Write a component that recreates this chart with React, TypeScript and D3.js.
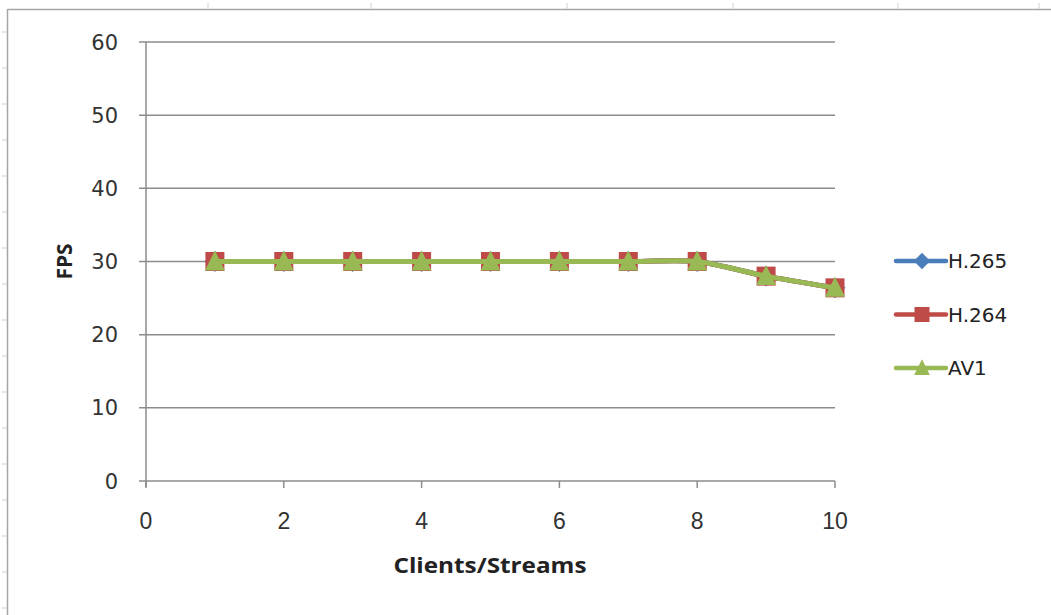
import React from "react";
import * as d3 from "d3";

const clients = [1, 2, 3, 4, 5, 6, 7, 8, 9, 10];
const h265 = [30, 30, 30, 30, 30, 30, 30, 30, 28, 26.4];
const h264 = [30, 30, 30, 30, 30, 30, 30, 30, 28, 26.4];
const av1 = [30, 30, 30, 30, 30, 30, 30, 30, 28, 26.4];
const yTicks = [0, 10, 20, 30, 40, 50, 60];
const xTicks = [0, 2, 4, 6, 8, 10];
const seriesNames = ["H.265", "H.264", "AV1"];
const seriesColors = ["#4A7EBB", "#BE4B48", "#98B954"];
const sheetColTicks = [208, 371, 567, 733, 898, 1039];

const W = 1051;
const H = 615;

export default function App() {
  const x = d3.scaleLinear().domain([0, 10]).range([146, 835]);
  const y = d3.scaleLinear().domain([0, 60]).range([481, 42]);
  const line = d3
    .line<number>()
    .x((_, i) => x(clients[i]))
    .y((v) => y(v))
    .curve(d3.curveCardinal.tension(0.3));

  const series = [h265, h264, av1];
  const grid = "#8c8c8c";
  const tri = (cx: number, cy: number, s: number) =>
    `M${cx},${cy - s * 0.55}L${cx + s / 2},${cy + s * 0.45}L${cx - s / 2},${cy + s * 0.45}Z`;
  const diamond = (cx: number, cy: number, s: number) =>
    `M${cx},${cy - s / 2}L${cx + s / 2},${cy}L${cx},${cy + s / 2}L${cx - s / 2},${cy}Z`;

  const marker = (k: number, cx: number, cy: number, s: number) => {
    if (k === 0) return <path d={diamond(cx, cy, s * 1.1)} fill={seriesColors[0]} />;
    if (k === 1)
      return <rect x={cx - s / 2} y={cy - s / 2} width={s} height={s} fill={seriesColors[1]} />;
    return <path d={tri(cx, cy, s * 1.05)} fill={seriesColors[2]} />;
  };

  return (
    <svg
      width={W}
      height={H}
      style={{ position: "absolute", left: 0, top: 0, background: "#fff" }}
    >
      {/* worksheet frame */}
      <line x1={8} x2={W} y1={9.5} y2={9.5} stroke="#a6a6a6" strokeWidth={1.5} />
      <line x1={7.5} x2={7.5} y1={9} y2={H} stroke="#a6a6a6" strokeWidth={1.5} />
      {sheetColTicks.map((t) => (
        <line key={t} x1={t} x2={t} y1={3} y2={9} stroke="#d0d0d0" />
      ))}
      {d3.range(32, H, 36).map((t) => (
        <line key={t} x1={2} x2={7} y1={t} y2={t} stroke="#d0d0d0" />
      ))}

      {/* horizontal gridlines and y ticks */}
      {yTicks.map((t) => (
        <g key={t}>
          <line x1={139} x2={x(10)} y1={y(t)} y2={y(t)} stroke={grid} strokeWidth={1.5} />
          <text
            x={118}
            y={y(t)}
            dy="0.36em"
            textAnchor="end"
            fontFamily="DejaVu Sans, sans-serif"
            fontSize={21}
            fill="#333"
          >
            {t}
          </text>
        </g>
      ))}
      <line x1={x(0)} x2={x(0)} y1={y(60)} y2={y(0) + 6} stroke={grid} strokeWidth={1.5} />
      {xTicks.map((t) => (
        <g key={t}>
          <line x1={x(t)} x2={x(t)} y1={y(0)} y2={y(0) + 7} stroke={grid} strokeWidth={1.5} />
          <text
            x={x(t)}
            y={521}
            dy="0.36em"
            textAnchor="middle"
            fontFamily="Liberation Sans Narrow, Liberation Sans, sans-serif"
            fontSize={23}
            fill="#333"
          >
            {t}
          </text>
        </g>
      ))}

      {/* axis titles */}
      <text
        x={490}
        y={565}
        dy="0.36em"
        textAnchor="middle"
        fontFamily="Open Sans, sans-serif"
        fontWeight="bold"
        fontSize={22}
        textLength={193}
        lengthAdjust="spacingAndGlyphs"
        fill="#222"
      >
        Clients/Streams
      </text>
      <text
        transform={`translate(64,${y(30)}) rotate(-90)`}
        dy="0.36em"
        textAnchor="middle"
        fontFamily="Open Sans, sans-serif"
        fontWeight="bold"
        fontSize={21}
        textLength={36}
        lengthAdjust="spacingAndGlyphs"
        fill="#222"
      >
        FPS
      </text>

      {/* series lines and markers */}
      {series.map((vals, k) => (
        <g key={k}>
          <path
            d={line(vals) ?? ""}
            fill="none"
            stroke={seriesColors[k]}
            strokeWidth={5}
            strokeLinejoin="round"
          />
          {vals.map((v, i) => (
            <g key={i}>{marker(k, x(clients[i]), y(v), 19)}</g>
          ))}
        </g>
      ))}

      {/* legend */}
      {seriesNames.map((name, k) => {
        const ly = 261 + k * 53.5;
        return (
          <g key={name}>
            <line
              x1={896}
              x2={946}
              y1={ly}
              y2={ly}
              stroke={seriesColors[k]}
              strokeWidth={4.5}
              strokeLinecap="round"
            />
            {marker(k, 922, ly, 15)}
            <text
              x={948}
              y={ly}
              dy="0.36em"
              fontFamily="DejaVu Sans, sans-serif"
              fontSize={20}
              fill="#222"
            >
              {name}
            </text>
          </g>
        );
      })}
    </svg>
  );
}
